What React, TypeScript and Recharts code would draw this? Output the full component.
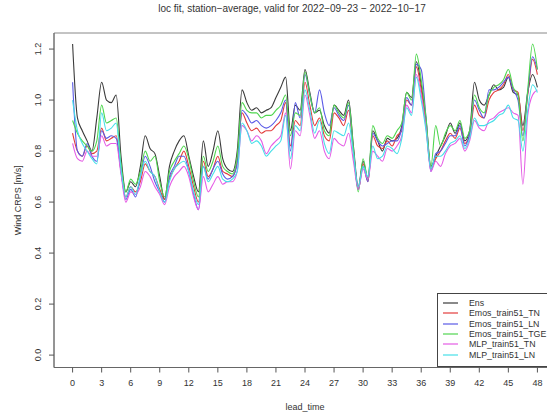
import React from 'react';
import { LineChart, Line, XAxis, YAxis, ReferenceArea, Legend } from 'recharts';

const leadTime = [
  0, 0.5, 1, 1.5, 2, 2.5, 3, 3.5, 4, 4.5, 5, 5.5, 6, 6.5, 7, 7.5, 8, 8.5, 9, 9.5,
  10, 10.5, 11, 11.5, 12, 12.5, 13, 13.5, 14, 14.5, 15, 15.5, 16, 16.5, 17, 17.5, 18, 18.5, 19, 19.5,
  20, 20.5, 21, 21.5, 22, 22.5, 23, 23.5, 24, 24.5, 25, 25.5, 26, 26.5, 27, 27.5, 28, 28.5, 29, 29.5,
  30, 30.5, 31, 31.5, 32, 32.5, 33, 33.5, 34, 34.5, 35, 35.5, 36, 36.5, 37, 37.5, 38, 38.5, 39, 39.5,
  40, 40.5, 41, 41.5, 42, 42.5, 43, 43.5, 44, 44.5, 45, 45.5, 46, 46.5, 47, 47.5, 48,
];

const ens = [
  1.22, 0.93, 0.88, 0.84, 0.80, 0.93, 1.07, 1.00, 0.99, 1.02,
  0.78, 0.64, 0.68, 0.66, 0.74, 0.86, 0.81, 0.79, 0.70, 0.61,
  0.74, 0.80, 0.84, 0.86, 0.78, 0.70, 0.64, 0.84, 0.74, 0.80,
  0.88, 0.77, 0.73, 0.72, 0.80, 1.04, 0.99, 0.96, 0.97, 0.95,
  0.96, 0.97, 1.01, 1.05, 1.09, 0.88, 0.98, 0.96, 1.12, 1.03,
  0.95, 0.96, 0.90, 0.87, 0.98, 0.96, 0.94, 1.00, 0.82, 0.66,
  0.76, 0.69, 0.88, 0.84, 0.80, 0.85, 0.84, 0.85, 0.90, 1.03,
  1.01, 1.15, 1.06, 0.92, 0.74, 0.78, 0.82, 0.86, 0.91, 0.87,
  0.91, 0.84, 0.88, 1.07, 1.00, 0.98, 1.02, 1.06, 1.04, 1.05,
  1.09, 1.03, 1.02, 0.90, 1.03, 1.10, 1.05,
];

const emosTN = [
  0.87, 0.80, 0.78, 0.82, 0.79, 0.80, 0.89, 0.84, 0.85, 0.86,
  0.72, 0.62, 0.66, 0.64, 0.68, 0.75, 0.72, 0.70, 0.65, 0.61,
  0.69, 0.73, 0.76, 0.80, 0.74, 0.66, 0.60, 0.76, 0.70, 0.73,
  0.78, 0.72, 0.71, 0.70, 0.76, 0.95, 0.91, 0.88, 0.89, 0.87,
  0.88, 0.88, 0.90, 0.92, 0.99, 0.82, 0.92, 0.90, 1.07, 0.98,
  0.90, 0.93, 0.86, 0.84, 0.95, 0.93, 0.90, 0.96, 0.80, 0.65,
  0.75, 0.68, 0.86, 0.82, 0.81, 0.84, 0.82, 0.86, 0.88, 1.00,
  0.98, 1.13, 1.04, 0.90, 0.73, 0.77, 0.80, 0.84, 0.87, 0.85,
  0.89, 0.83, 0.86, 0.98, 0.94, 0.93, 1.00, 1.03, 1.04, 1.06,
  1.10, 1.04, 1.03, 0.88, 1.02, 1.16, 1.10,
];

const emosLN = [
  1.07, 0.80, 0.78, 0.83, 0.78, 0.76, 0.88, 0.85, 0.86, 0.85,
  0.72, 0.61, 0.65, 0.62, 0.70, 0.78, 0.74, 0.68, 0.64, 0.60,
  0.70, 0.74, 0.78, 0.78, 0.72, 0.63, 0.57, 0.74, 0.69, 0.73,
  0.76, 0.71, 0.69, 0.70, 0.75, 0.96, 0.94, 0.91, 0.92, 0.90,
  0.89, 0.90, 0.92, 0.95, 1.00, 0.80, 0.99, 0.93, 1.10, 1.02,
  0.95, 1.04, 0.95, 0.90, 0.97, 0.94, 0.92, 0.98, 0.80, 0.65,
  0.74, 0.68, 0.87, 0.84, 0.82, 0.83, 0.84, 0.84, 0.89, 1.01,
  0.98, 1.14, 1.12, 0.93, 0.72, 0.79, 0.80, 0.83, 0.86, 0.86,
  0.90, 0.82, 0.87, 1.00, 0.96, 0.93, 1.04, 1.04, 1.05, 1.07,
  1.09, 1.04, 1.00, 0.86, 1.03, 1.17, 1.12,
];

const emosTGEV = [
  0.92, 0.87, 0.84, 0.82, 0.80, 0.84, 0.98, 0.91, 0.92, 0.93,
  0.75, 0.64, 0.69, 0.67, 0.72, 0.80, 0.76, 0.78, 0.68, 0.62,
  0.72, 0.76, 0.79, 0.82, 0.77, 0.68, 0.62, 0.78, 0.72, 0.76,
  0.82, 0.74, 0.72, 0.71, 0.78, 0.99, 0.96, 0.95, 0.95, 0.93,
  0.94, 0.94, 0.96, 0.98, 1.02, 0.86, 0.95, 0.94, 1.11, 1.02,
  0.95, 0.97, 0.88, 0.86, 0.98, 0.95, 0.93, 0.99, 0.81, 0.64,
  0.77, 0.69, 0.90, 0.85, 0.83, 0.86, 0.85, 0.88, 0.91, 1.03,
  1.00, 1.18, 1.08, 0.93, 0.74, 0.90, 0.82, 0.87, 0.90, 0.88,
  0.92, 0.85, 0.88, 1.02, 0.97, 0.95, 1.02, 1.05, 1.06, 1.08,
  1.12, 1.05, 1.02, 0.84, 1.04, 1.22, 1.12,
];

const mlpTN = [
  0.83, 0.77, 0.76, 0.80, 0.78, 0.78, 0.86, 0.82, 0.83, 0.83,
  0.71, 0.60, 0.64, 0.63, 0.66, 0.72, 0.70, 0.66, 0.63, 0.59,
  0.66, 0.70, 0.72, 0.74, 0.70, 0.62, 0.57, 0.70, 0.64, 0.67,
  0.70, 0.67, 0.68, 0.68, 0.72, 0.90, 0.88, 0.84, 0.86, 0.84,
  0.79, 0.82, 0.84, 0.86, 0.95, 0.73, 0.88, 0.86, 1.02, 0.94,
  0.85, 0.88, 0.80, 0.77, 0.85, 0.83, 0.82, 0.87, 0.76, 0.65,
  0.73, 0.69, 0.80, 0.78, 0.76, 0.81, 0.80, 0.82, 0.86, 0.98,
  0.95, 1.10, 1.02, 0.89, 0.72, 0.76, 0.74, 0.79, 0.82, 0.83,
  0.85, 0.80, 0.84, 0.92, 0.89, 0.88, 0.92, 0.93, 0.95, 0.96,
  0.97, 0.95, 0.94, 0.67, 0.94, 1.02, 1.04,
];

const mlpLN = [
  1.00, 0.88, 0.83, 0.80, 0.77, 0.75, 0.95, 0.88, 0.89, 0.91,
  0.73, 0.62, 0.66, 0.63, 0.70, 0.76, 0.72, 0.70, 0.64, 0.60,
  0.68, 0.73, 0.75, 0.76, 0.72, 0.64, 0.59, 0.74, 0.68, 0.71,
  0.74, 0.69, 0.68, 0.69, 0.72, 0.91, 0.88, 0.83, 0.84, 0.82,
  0.78, 0.80, 0.82, 0.84, 0.94, 0.77, 0.90, 0.88, 1.04, 0.96,
  0.87, 0.92, 0.83, 0.79, 0.88, 0.87, 0.86, 0.91, 0.79, 0.66,
  0.74, 0.70, 0.82, 0.77, 0.78, 0.82, 0.81, 0.79, 0.85, 0.97,
  0.94, 1.09, 1.00, 0.88, 0.73, 0.78, 0.78, 0.80, 0.83, 0.84,
  0.86, 0.81, 0.85, 0.93, 0.90, 0.90, 0.91, 0.92, 0.94, 0.95,
  0.98, 0.93, 0.92, 0.80, 0.96, 1.06, 1.03,
];

const xTicks = [0, 3, 6, 9, 12, 15, 18, 21, 24, 27, 30, 33, 36, 39, 42, 45, 48];
const yTicks = [0, 0.2, 0.4, 0.6, 0.8, 1.0, 1.2];
const seriesNames = [
  'Ens',
  'Emos_train51_TN',
  'Emos_train51_LN',
  'Emos_train51_TGE',
  'MLP_train51_TN',
  'MLP_train51_LN',
];
const seriesColors = ['#3a3a3a', '#e33b3b', '#5a5ae6', '#4fd64f', '#e55ce5', '#45dfe8'];
const seriesValues = [ens, emosTN, emosLN, emosTGEV, mlpTN, mlpLN];

const titleText = 'loc fit, station\u2212average, valid for 2022\u221209\u221223 \u2212 2022\u221210\u221217';

const data = leadTime.map((t, i) => {
  const row: Record<string, number> = { lead: t };
  seriesNames.forEach((n, k) => {
    row[n] = seriesValues[k][i];
  });
  return row;
});

const FONT = '"Liberation Sans", Arial, Helvetica, sans-serif';
const TXT = '#333';

const XTick = (props: any) => {
  const { x, y, payload } = props;
  return (
    <text x={x} y={y + 11} textAnchor="middle" fontSize={9} fontFamily={FONT} fill={TXT}>
      {payload.value}
    </text>
  );
};

const YTick = (props: any) => {
  const { y, payload } = props;
  const bx = 41;
  return (
    <text
      x={bx}
      y={y}
      textAnchor="middle"
      fontSize={9}
      fontFamily={FONT}
      fill={TXT}
      transform={`rotate(-90, ${bx}, ${y})`}
    >
      {Number(payload.value).toFixed(1)}
    </text>
  );
};

const LegendBox = () => (
  <div
    style={{
      width: 130,
      height: 74,
      border: '1px solid #444',
      background: '#fff',
      boxSizing: 'border-box',
      paddingTop: 4,
      fontFamily: FONT,
      fontSize: 8.8,
      color: TXT,
    }}
  >
    {seriesNames.map((n, k) => (
      <div key={n} style={{ height: 10.3, display: 'flex', alignItems: 'center', whiteSpace: 'nowrap' }}>
        <svg width={31} height={10} style={{ flex: 'none' }}>
          <line x1={5} x2={20} y1={5} y2={5} stroke={seriesColors[k]} strokeWidth={1.2} />
        </svg>
        <span style={{ lineHeight: '10px' }}>{n}</span>
      </div>
    ))}
  </div>
);

export default function App() {
  return (
    <div
      style={{
        position: 'absolute',
        left: 0,
        top: 0,
        width: 547,
        height: 415,
        overflow: 'hidden',
        background: '#fff',
      }}
    >
      <LineChart
        width={560}
        height={415}
        data={data}
        margin={{ top: 33, right: 4, bottom: 7.5, left: 0 }}
      >
        <ReferenceArea
          x1={-1.92}
          x2={49.92}
          y1={-0.0486}
          y2={1.263}
          fill="none"
          stroke="#888"
          strokeWidth={1}
          ifOverflow="visible"
        />
        <XAxis
          dataKey="lead"
          type="number"
          domain={[-1.92, 49.92]}
          ticks={xTicks}
          allowDataOverflow
          interval={0}
          height={40}
          tickSize={5}
          axisLine={{ stroke: '#666' }}
          tickLine={{ stroke: '#555' }}
          tick={<XTick />}
          label={{
            value: 'lead_time',
            position: 'insideBottom',
            offset: -2,
            fontSize: 9,
            fontFamily: FONT,
            fill: TXT,
          }}
        />
        <YAxis
          type="number"
          domain={[-0.0486, 1.263]}
          ticks={yTicks}
          allowDataOverflow
          interval={0}
          width={54}
          tickSize={5}
          axisLine={{ stroke: '#666' }}
          tickLine={{ stroke: '#555' }}
          tick={<YTick />}
          label={{
            value: 'Wind CRPS [m/s]',
            angle: -90,
            position: 'insideLeft',
            offset: 18,
            fontSize: 9,
            fontFamily: FONT,
            fill: TXT,
            style: { textAnchor: 'middle' },
          }}
        />
        {seriesNames.map((n, k) => (
          <Line
            key={n}
            type="monotone"
            dataKey={n}
            stroke={seriesColors[k]}
            strokeWidth={1.1}
            dot={false}
            activeDot={false}
            isAnimationActive={false}
          />
        ))}
        <Legend
          layout="vertical"
          align="center"
          verticalAlign="middle"
          content={<LegendBox />}
          wrapperStyle={{ position: 'absolute', left: 437, top: 293, width: 130, height: 74 }}
        />
      </LineChart>
      <svg
        width={547}
        height={30}
        style={{ position: 'absolute', left: 0, top: 0, pointerEvents: 'none' }}
      >
        <text x={292} y={12} textAnchor="middle" fontSize={10} fontFamily={FONT} fill={TXT}>
          {titleText}
        </text>
      </svg>
    </div>
  );
}
